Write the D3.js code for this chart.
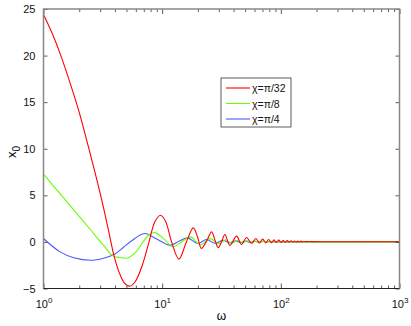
<!DOCTYPE html>
<html>
<head>
<meta charset="utf-8">
<script src="https://cdn.jsdelivr.net/npm/d3@7"></script>
<style>
body { margin: 0; background: #fff; }
text { font-family: "Liberation Sans", Arial, sans-serif; }
</style>
</head>
<body>
<svg id="chart"></svg>
<script>
// values (omega, x0)
var redOmega = [1, 1.2, 1.39, 1.7, 2.0, 2.38, 2.8, 3.2, 3.63, 3.93, 4.35, 4.8, 5.3, 5.9, 6.8, 7.75, 8.7, 9.7, 10.7, 12.0, 13.85, 16.0, 18.3, 19.9, 21.4, 23.5, 26.1, 28.0, 29.7, 31.6, 33.8, 37.2, 42.4, 46.6, 51.5, 56.7, 61.7,
  66, 70.3, 74.6, 78.9, 83.2, 87.5, 91.8, 96.1, 100.4, 104.7, 109, 113.3, 117.6, 121.9, 126.2, 130.5, 134.8, 139.1, 143.4, 147.7, 152, 156.3, 160.6, 164.9, 169.2, 173.5, 180, 250, 1000];
var redX0 = [24.4, 22.2, 20.1, 16.8, 13.9, 10.3, 6.8, 3.7, 0.5, -1.5, -3.3, -4.4, -4.75, -4.3, -2.5, 0, 2.2, 2.87, 2.2, 0, -1.85, 0, 1.51, 0.5, -0.7, 0, 1.08, 0.1, -0.6, 0, 0.8, -0.38, 0.62, -0.27, 0.48, -0.17, 0.37,
  -0.12, 0.3, -0.1, 0.26, -0.08, 0.22, -0.06, 0.19, -0.05, 0.16, -0.04, 0.14, -0.03, 0.12, -0.02, 0.1, -0.02, 0.09, -0.01, 0.08, 0, 0.07, 0, 0.06, 0.01, 0.05, 0.03, 0.02, 0.01];

var greenOmega = [1, 1.2, 1.5, 2.0, 2.5, 3.2, 3.85, 4.4, 5.1, 6.0, 6.9, 7.8, 8.7, 10.4, 12.3, 14.6, 17.2, 21, 25.5, 30, 34, 38.5, 43, 47.5, 52, 56.5, 61, 66, 71, 80, 1000];
var greenX0 = [7.28, 6.08, 4.62, 2.74, 1.28, -0.35, -1.5, -1.68, -1.72, -1.1, 0, 0.8, 1.0, 0.3, -0.53, 0, 0.54, -0.3, 0.35, -0.2, 0.22, -0.15, 0.17, -0.1, 0.12, -0.07, 0.09, -0.04, 0.06, 0.01, 0];

var blueOmega = [1, 1.38, 1.8, 2.5, 3.2, 4.0, 4.7, 5.5, 7.1, 9.0, 11.6, 14.0, 16.3, 20, 23.6, 27.8, 32.7, 37, 41.5, 46, 50.5, 55, 60, 65, 70, 80, 1000];
var blueX0 = [0.37, -1.07, -1.7, -1.97, -1.75, -1.3, -0.6, 0.1, 0.9, 0.3, -0.35, 0.1, 0.43, -0.17, 0.26, -0.14, 0.17, -0.1, 0.13, -0.07, 0.1, -0.05, 0.07, -0.03, 0.05, 0.01, 0];

var seriesNames = ["\u03c7=\u03c0/32", "\u03c7=\u03c0/8", "\u03c7=\u03c0/4"];
var seriesColors = ["#ff0000", "#66ff00", "#4a5aff"];
var yTicks = [-5, 0, 5, 10, 15, 20, 25];
var xTicks = [1, 10, 100, 1000];
var xTickExp = ["0", "1", "2", "3"];

var svgWidth = 411;
var svgHeight = 326;
var margin = { top: 9, right: 11.5, bottom: 37.5, left: 43.5 };
var width = svgWidth - margin.left - margin.right;
var height = svgHeight - margin.top - margin.bottom;

var svg = d3.select("#chart")
  .attr("width", svgWidth)
  .attr("height", svgHeight);

var chartGroup = svg.append("g")
  .attr("transform", `translate(${margin.left}, ${margin.top})`);

var xScale = d3.scaleLog().domain([1, 1000]).range([0, width]);
var yScale = d3.scaleLinear().domain([-5, 25]).range([height, 0]);

// minor ticks 2..9 per decade
var minorTicks = [];
[1, 10, 100].forEach(function (d) {
  for (var k = 2; k <= 9; k++) minorTicks.push(d * k);
});

// curves
var seriesData = [
  redOmega.map((w, i) => [w, redX0[i]]),
  greenOmega.map((w, i) => [w, greenX0[i]]),
  blueOmega.map((w, i) => [w, blueX0[i]])
];

var line = d3.line()
  .x(d => xScale(d[0]))
  .y(d => yScale(d[1]))
  .curve(d3.curveCatmullRom.alpha(0.5));

[2, 1, 0].forEach(function (i) {
  chartGroup.append("path")
    .datum(seriesData[i])
    .attr("fill", "none")
    .attr("stroke", seriesColors[i])
    .attr("stroke-width", 1.1)
    .attr("d", line);
});

// axes (ticks pointing inward)
var leftAxis = d3.axisLeft(yScale).tickValues(yTicks).tickSize(-4).tickPadding(8);
var rightAxis = d3.axisRight(yScale).tickValues(yTicks).tickSize(-4).tickFormat("");
var bottomAxis = d3.axisBottom(xScale).tickValues(xTicks).tickSize(-5).tickPadding(10).tickFormat("");
var bottomMinor = d3.axisBottom(xScale).tickValues(minorTicks).tickSize(-3).tickFormat("");
var topAxis = d3.axisTop(xScale).tickValues(xTicks).tickSize(-5).tickFormat("");
var topMinor = d3.axisTop(xScale).tickValues(minorTicks).tickSize(-3).tickFormat("");

var gl = chartGroup.append("g").call(leftAxis);
chartGroup.append("g").attr("transform", `translate(${width},0)`).call(rightAxis);
var gb = chartGroup.append("g").attr("transform", `translate(0,${height})`).call(bottomAxis);
chartGroup.append("g").attr("transform", `translate(0,${height})`).call(bottomMinor);
chartGroup.append("g").call(topAxis);
chartGroup.append("g").call(topMinor);

chartGroup.selectAll(".domain").remove();
chartGroup.selectAll(".tick line").attr("stroke", "#333").attr("stroke-width", 0.8);

gl.selectAll("text")
  .attr("font-size", 11)
  .attr("fill", "#111")
  .text(d => d < 0 ? "\u2212" + Math.abs(d) : d);

// x tick labels as 10^n
gb.selectAll(".tick").each(function (d, i) {
  var t = d3.select(this).append("text")
    .attr("y", 19)
    .attr("text-anchor", "middle")
    .attr("font-size", 11)
    .attr("fill", "#111");
  t.append("tspan").text("10");
  t.append("tspan").attr("font-size", 8).attr("dy", -5).text(xTickExp[i]);
});

// frame: gray left/top/right, dark bottom
chartGroup.append("path")
  .attr("d", `M0,${height}V0H${width}V${height}`)
  .attr("fill", "none")
  .attr("stroke", "#888")
  .attr("stroke-width", 1.5);
chartGroup.append("line")
  .attr("x1", 0).attr("x2", width)
  .attr("y1", height).attr("y2", height)
  .attr("stroke", "#222")
  .attr("stroke-width", 1.2);

// axis titles
svg.append("text")
  .attr("x", margin.left + width / 2)
  .attr("y", 320)
  .attr("text-anchor", "middle")
  .attr("font-size", 12)
  .text("\u03c9");

var yLabel = svg.append("text")
  .attr("transform", "translate(16,152) rotate(-90)")
  .attr("text-anchor", "middle")
  .attr("font-size", 13);
yLabel.append("tspan").text("x");
yLabel.append("tspan").attr("font-size", 10).attr("dy", 4).text("0");

// legend
var legend = svg.append("g").attr("transform", "translate(221,78)");
legend.append("rect")
  .attr("width", 70).attr("height", 49)
  .attr("fill", "#fff")
  .attr("stroke", "#333")
  .attr("stroke-width", 0.8);
seriesNames.forEach(function (name, i) {
  var yy = 10 + i * 15.5;
  legend.append("line")
    .attr("x1", 5).attr("x2", 29)
    .attr("y1", yy).attr("y2", yy)
    .attr("stroke", seriesColors[i])
    .attr("stroke-width", 1.1);
  legend.append("text")
    .attr("x", 31).attr("y", yy + 4)
    .attr("font-size", 10.5)
    .attr("fill", "#111")
    .text(name);
});
</script>
</body>
</html>
